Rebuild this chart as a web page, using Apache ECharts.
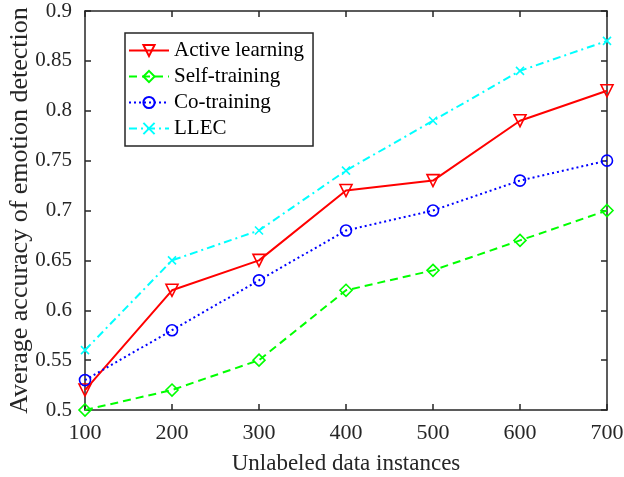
<!DOCTYPE html>
<html><head><meta charset="utf-8">
<script src="https://cdn.jsdelivr.net/npm/echarts@6/dist/echarts.min.js"></script>
<style>html,body{margin:0;padding:0;background:#fff}#c{width:624px;height:477px}</style>
</head><body><div id="c"></div>
<script>
const xValues = [100, 200, 300, 400, 500, 600, 700];
const activeLearning = [0.52, 0.62, 0.65, 0.72, 0.73, 0.79, 0.82];
const selfTraining = [0.50, 0.52, 0.55, 0.62, 0.64, 0.67, 0.70];
const coTraining = [0.53, 0.58, 0.63, 0.68, 0.70, 0.73, 0.75];
const llec = [0.56, 0.65, 0.68, 0.74, 0.79, 0.84, 0.87];
const seriesNames = ['Active learning', 'Self-training', 'Co-training', 'LLEC'];

const font = 'Liberation Serif';
const pair = arr => xValues.map((x, i) => [x, arr[i]]);
const chart = echarts.init(document.getElementById('c'));
const hollow = c => ({ color: 'rgba(255,255,255,0)', borderColor: c, borderWidth: 1.6 });
const axisCommon = {
  axisLine: { show: true, lineStyle: { color: '#262626', width: 1.5 } },
  axisTick: { show: true, inside: true, length: 6, lineStyle: { color: '#262626', width: 1.5 } },
  splitLine: { show: false }
};
chart.setOption({
  animation: false,
  grid: { left: 85, right: 17, top: 11, bottom: 67, outerBoundsMode: 'none', containLabel: false },
  legend: {
    orient: 'vertical', left: 125, top: 33,
    data: seriesNames,
    borderColor: '#262626', borderWidth: 1.5, backgroundColor: '#fff',
    padding: [7, 9, 7, 3], itemGap: 5, itemWidth: 40, itemHeight: 14,
    textStyle: { fontFamily: font, fontSize: 21, color: '#000' }
  },
  xAxis: [
    Object.assign({ type: 'value', min: 100, max: 700, interval: 100, position: 'bottom',
      name: 'Unlabeled data instances', nameLocation: 'middle', nameGap: 42, nameMoveOverlap: false,
      nameTextStyle: { fontFamily: font, fontSize: 23, color: '#262626' },
      axisLabel: { fontFamily: font, fontSize: 22, color: '#262626', margin: 12 } }, axisCommon),
    Object.assign({ type: 'value', min: 100, max: 700, interval: 100, position: 'top',
      axisLabel: { show: false } }, axisCommon)
  ],
  yAxis: [
    Object.assign({ type: 'value', min: 0.5, max: 0.9, interval: 0.05, position: 'left',
      name: 'Average accuracy of emotion detection', nameLocation: 'middle', nameGap: 52, nameMoveOverlap: false,
      nameTextStyle: { fontFamily: font, fontSize: 26, color: '#262626' },
      axisLabel: { fontFamily: font, fontSize: 21, color: '#262626', margin: 13,
        formatter: v => String(Math.round(v * 100) / 100) } }, axisCommon),
    Object.assign({ type: 'value', min: 0.5, max: 0.9, interval: 0.05, position: 'right',
      axisLabel: { show: false } }, axisCommon)
  ],
  series: [
    { name: seriesNames[0], type: 'line', data: pair(activeLearning),
      symbol: 'triangle', symbolRotate: 180, symbolSize: 12,
      lineStyle: { color: '#ff0000', width: 2 }, itemStyle: hollow('#ff0000') },
    { name: seriesNames[1], type: 'line', data: pair(selfTraining),
      symbol: 'diamond', symbolSize: 12,
      lineStyle: { color: '#00ff00', width: 2, type: [8, 5] }, itemStyle: hollow('#00ff00') },
    { name: seriesNames[2], type: 'line', data: pair(coTraining),
      symbol: 'circle', symbolSize: 11,
      lineStyle: { color: '#0000ff', width: 2, type: [2, 3] }, itemStyle: hollow('#0000ff') },
    { name: seriesNames[3], type: 'line', data: pair(llec),
      symbol: 'path://M0,0L10,10M10,0L0,10', symbolSize: 8,
      lineStyle: { color: '#00ffff', width: 2, type: [8, 4, 2, 4] }, itemStyle: hollow('#00ffff') }
  ]
});
</script></body></html>
